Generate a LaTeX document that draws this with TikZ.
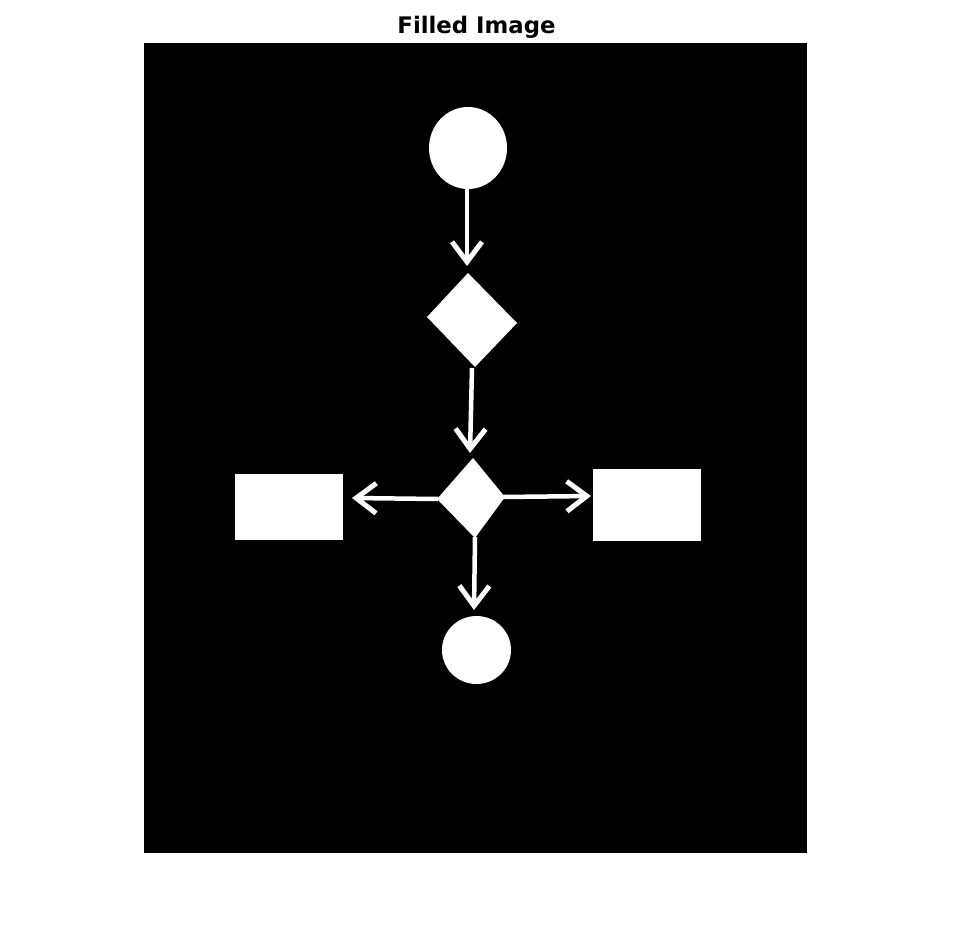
\documentclass[tikz,border=0pt]{standalone}
\usepackage{fontspec}
\setmainfont{DejaVu Sans}
\usetikzlibrary{arrows.meta,shapes.geometric}
\begin{document}
\begin{tikzpicture}[x=1pt,y=-1pt,
  blob/.style={fill=white,draw=none},
  conn/.style={draw=white,line width=4.5pt,-{Straight Barb[length=20pt,width=30pt,line width=5pt]}},
  ttl/.style={font=\bfseries\fontsize{22.8}{26}\selectfont,inner sep=0pt}]
\useasboundingbox (0,0) rectangle (953,952);
\fill[white] (0,0) rectangle (953,952);
\node[ttl] (title) at (476.5,27.5) {Filled Image};
\fill[black] (144,43) rectangle (807,853);
% shapes
\node[ellipse,blob,minimum width=78pt,minimum height=82pt,inner sep=0pt] (c1) at (468,148) {};
\fill[white] (468,273) -- (517,323) -- (475,367) -- (427,317) -- cycle;
\fill[white] (473,458) -- (505,497) -- (475,538) -- (437,499) -- cycle;
\node[rectangle,blob,minimum width=108pt,minimum height=66pt,inner sep=0pt] (r1) at (289,507) {};
\node[rectangle,blob,minimum width=108pt,minimum height=72pt,inner sep=0pt] (r2) at (647,505) {};
\node[ellipse,blob,minimum width=69pt,minimum height=68pt,inner sep=0pt] (c2) at (476.5,650) {};
% connector end points
\coordinate (a1s) at (467,188);
\coordinate (a1e) at (467,266);
\coordinate (a2s) at (472,368);
\coordinate (a2e) at (470,453);
\coordinate (d2l) at (438,499);
\coordinate (a3e) at (352,498);
\coordinate (d2r) at (503,497);
\coordinate (a4e) at (591,496);
\coordinate (d2b) at (475,537);
\coordinate (a5e) at (474,610);
\draw[conn] (a1s) -- (a1e);
\draw[conn] (a2s) -- (a2e);
\draw[conn] (d2l) -- (a3e);
\draw[conn] (d2r) -- (a4e);
\draw[conn] (d2b) -- (a5e);
\end{tikzpicture}
\end{document}
